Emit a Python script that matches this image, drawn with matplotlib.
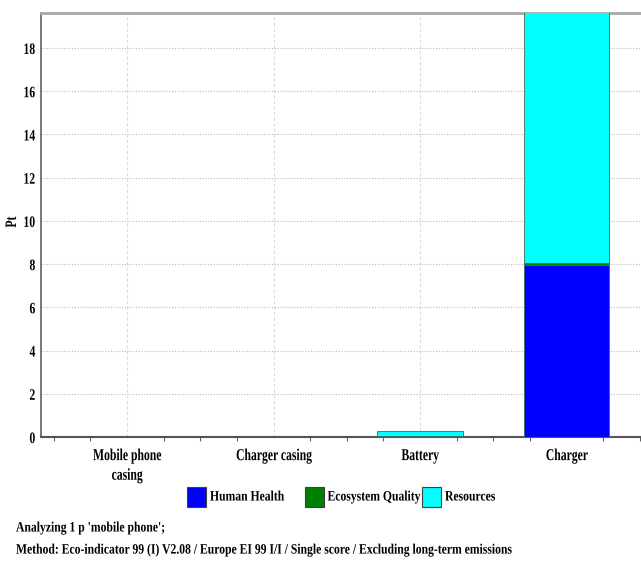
import matplotlib
matplotlib.use("Agg")
import matplotlib.pyplot as plt
from matplotlib.patches import Rectangle
from matplotlib.patheffects import AbstractPathEffect
from matplotlib.transforms import Affine2D
import numpy as np

categories = ["Mobile phone\ncasing", "Charger casing", "Battery", "Charger"]
series_names = ["Human Health", "Ecosystem Quality", "Resources"]
human_health = [0.0, 0.0, 0.01, 7.95]
ecosystem_quality = [0.0, 0.0, 0.03, 0.1]
resources = [0.0, 0.0, 0.24, 11.65]
colors = ["#0000FF", "#008000", "#00FFFF"]
y_ticks = [0, 2, 4, 6, 8, 10, 12, 14, 16, 18]

FONT = "Liberation Serif"
# glyph width per point of font size is kept at about 0.70 * 12pt
WIDTH_12 = 0.70 * 12


class Condensed(AbstractPathEffect):
    """Narrow the glyphs horizontally about the text's alignment point."""

    def __init__(self, sx, anchor="left"):
        super().__init__()
        self.sx = sx
        self.anchor = anchor

    def draw_path(self, renderer, gc, tpath, affine, rgbFace=None):
        ext = tpath.get_extents()
        if self.anchor == "left":
            a = 0.0
        elif self.anchor == "right":
            a = ext.x1
        else:
            a = 0.5 * (ext.x1 + max(ext.x0, 0.0))
        squeeze = Affine2D().translate(-a, 0).scale(self.sx, 1).translate(a, 0)
        renderer.draw_path(gc, tpath, squeeze + affine, rgbFace)


def style(t, anchor, size):
    t.set_fontfamily(FONT)
    t.set_fontweight("bold")
    t.set_fontsize(size)
    t.set_path_effects([Condensed(min(1.0, WIDTH_12 / size), anchor=anchor)])
    return t


W, H = 641, 561
fig = plt.figure(figsize=(W / 100, H / 100), dpi=100)
fig.patch.set_facecolor("white")

ax_left, ax_right, ax_bottom, ax_top = 41, 641, 437, 13
ax = fig.add_axes([ax_left / W, 1 - ax_bottom / H,
                   (ax_right - ax_left) / W, (ax_bottom - ax_top) / H])

x = np.arange(len(categories))
bar_w = 0.585
bottom = np.zeros(len(categories))
for vals, name, c in zip([human_health, ecosystem_quality, resources], series_names, colors):
    ax.bar(x, vals, bar_w, bottom=bottom, color=c, edgecolor="#3a6a5a",
           linewidth=0.6, label=name, zorder=3)
    bottom += np.array(vals)

px_per_cat = 146.5
ax.set_xlim((ax_left - 127) / px_per_cat, (ax_right - 127) / px_per_cat)
ax.set_ylim(0, (ax_bottom - ax_top) / 21.61)

ax.set_yticks(y_ticks)
ax.set_yticklabels([str(t) for t in y_ticks])
for t in ax.get_yticklabels():
    style(t, "right", 11.5)
ax.tick_params(axis="y", length=0, pad=4)

ax.set_xticks(x)
ax.set_xticklabels(categories, linespacing=1.3)
for t in ax.get_xticklabels():
    style(t, "center", 12)
ax.tick_params(axis="x", length=0, pad=8)
ax.set_xticks(np.arange(-0.5, 3.6, 0.25), minor=True)
ax.tick_params(axis="x", which="minor", length=3, color="#606060", width=0.8)

ax.grid(axis="y", linestyle=(0, (1, 1.5)), color="#b8b8b8", linewidth=0.8, zorder=0)
ax.grid(axis="x", linestyle=(0, (3, 2)), color="#dcdcdc", linewidth=0.8, zorder=0)

ax.spines["right"].set_visible(False)
ax.spines["top"].set_color("#a8a8a8")
ax.spines["top"].set_linewidth(2.0)
ax.spines["left"].set_color("#606060")
ax.spines["left"].set_linewidth(1.2)
ax.spines["bottom"].set_color("#555555")
ax.spines["bottom"].set_linewidth(1.5)

style(fig.text(12 / W, 1 - 222 / H, "Pt", rotation=90, ha="center", va="center"),
      "center", 11.5)

# legend with fixed column spacing
leg_y = 497
for i, (name, c) in enumerate(zip(series_names, colors)):
    x0 = 187 + i * 117.5
    fig.add_artist(Rectangle((x0 / W, 1 - (leg_y + 10) / H), 19 / W, 20 / H,
                             transform=fig.transFigure, facecolor=c,
                             edgecolor="#404040", linewidth=0.8))
    style(fig.text((x0 + 23) / W, 1 - leg_y / H, name, ha="left", va="center"),
          "left", 10.3)

style(fig.text(16 / W, 1 - 528 / H, "Analyzing 1 p 'mobile phone';",
               ha="left", va="center"), "left", 10.3)
style(fig.text(16 / W, 1 - 550 / H,
               "Method: Eco-indicator 99 (I) V2.08 / Europe EI 99 I/I / Single score / Excluding long-term emissions",
               ha="left", va="center"), "left", 10.3)

fig.savefig("out.png", dpi=100)
